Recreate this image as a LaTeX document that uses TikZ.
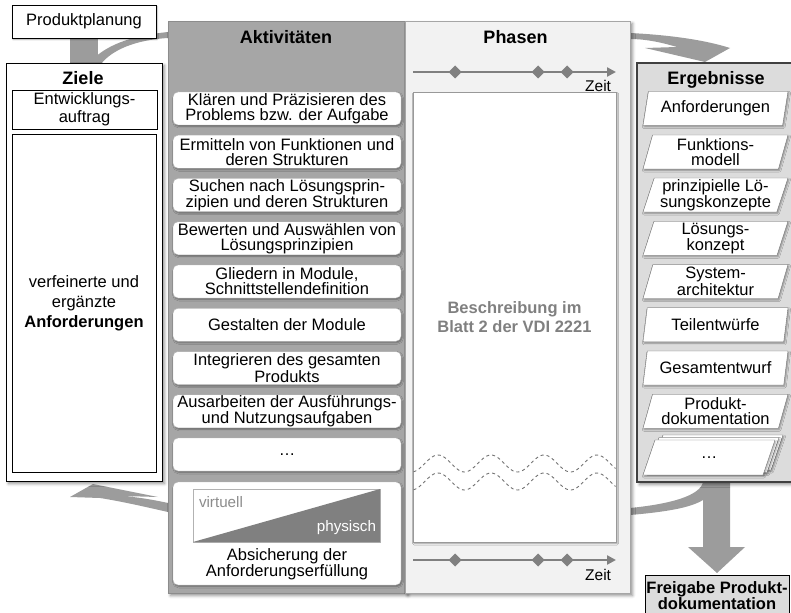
\documentclass[tikz,border=0pt]{standalone}
\usepackage{fontspec}
\setmainfont{Liberation Sans}
\usetikzlibrary{shadows.blur,calc,arrows.meta,shapes.geometric}

\definecolor{panelgray}{HTML}{A6A6A6}
\definecolor{phasebg}{HTML}{F2F2F2}
\definecolor{resbg}{HTML}{DCDCDC}
\definecolor{arrowgray}{HTML}{9C9C9C}
\definecolor{linegray}{HTML}{808080}

\begin{document}
\begin{tikzpicture}[x=1pt,y=-1pt,
  every node/.style={inner sep=0pt, outer sep=0pt},
  txt/.style={font=\fontsize{16.5}{15}\selectfont, align=center},
  hdr/.style={font=\fontsize{18}{20}\selectfont\bfseries, anchor=base},
  softshadow/.style={blur shadow={shadow xshift=2.5pt, shadow yshift=-2.5pt,
      shadow blur radius=3pt, shadow opacity=45}},
  smallshadow/.style={blur shadow={shadow xshift=1pt, shadow yshift=-1.5pt,
      shadow blur radius=1.5pt, shadow opacity=35}},
  actbox/.style={txt, draw=black!28, fill=white, rounded corners=5pt,
      minimum width=228pt, minimum height=33pt, smallshadow},
  resbox/.style={txt, font=\fontsize{16.5}{15}\selectfont, shape=trapezium,
      trapezium left angle=70.56, trapezium right angle=109.44,
      trapezium stretches body, minimum width=145pt, minimum height=34pt,
      draw=black!55, fill=white, smallshadow},
  sheet/.style={draw=black!55, fill=white, smallshadow},
  blackbox/.style={draw=black, fill=white, line width=0.8pt},
  bigarrow/.style={fill=arrowgray, draw=none},
  zeitline/.style={draw=linegray, line width=2.5pt, -{Triangle[length=9pt,width=9pt]}},
  milestone/.style={diamond, fill=linegray, minimum size=13pt},
  zeit/.style={font=\fontsize{15.5}{17}\selectfont, anchor=east},
  wave/.style={draw=black!55, dashed, line width=0.9pt}]

\useasboundingbox (0,0) rectangle (791,612);

% ---------- flow arrows (panels cover their roots) ----------
\fill[bigarrow] (70,38) rectangle (98,64);
\fill[bigarrow] (168,32) .. controls (130,36) and (105,45) .. (88,64)
    -- (101,64) .. controls (112,50) and (135,40) .. (168,38) -- cycle;
\fill[bigarrow] (630,33) .. controls (670,35) and (705,40) .. (730,48)
    -- (705,62) -- (645,48) -- (677,47)
    .. controls (660,42) and (645,39) .. (630,39) -- cycle;
\fill[bigarrow] (168,503) .. controls (150,499) and (135,497) .. (123,496)
    -- (158,497) -- (93,484) -- (70,497) -- (100,498)
    .. controls (125,502) and (150,508) .. (168,512) -- cycle;
\fill[bigarrow] (630,508) .. controls (670,504) and (700,496) .. (703,482)
    -- (730,482) -- (730,547) -- (745,547) -- (717,573) -- (688,547)
    -- (703,547) -- (703,500) .. controls (690,508) and (665,512) .. (630,515) -- cycle;

% ---------- panels ----------
\node[draw=black!45, fill=panelgray, softshadow, minimum width=238pt,
      minimum height=572pt] (akt) at (287,307) {};
\node[draw=black!35, fill=phasebg, softshadow, minimum width=225pt,
      minimum height=572pt] (pha) at (517.5,307) {};
\node[draw=black, fill=white, line width=0.9pt, softshadow, minimum width=156pt,
      minimum height=418pt] (ziele) at (84,272) {};
\node[draw=black!75, fill=resbg, line width=1.2pt, softshadow, minimum width=163pt,
      minimum height=419pt] (erg) at (718.5,272.5) {};
% description area of the phases
\node[draw=black!40, fill=white, smallshadow, minimum width=203pt,
      minimum height=450pt] (area) at (514.5,317) {};

% ---------- headers ----------
\node[hdr] (hZiele) at (83,85) {Ziele};
\node[hdr] (hAkt) at (286,43.3) {Aktivitäten};
\node[hdr] (hPha) at (515.5,43.3) {Phasen};
\node[hdr] (hErg) at (716,85) {Ergebnisse};

% ---------- goals ----------
\node[blackbox, txt, smallshadow, minimum width=144pt, minimum height=33pt]
  (pp) at (84,21.5) {Produktplanung};
\node[blackbox, txt, font=\fontsize{16.5}{18}\selectfont, minimum width=145pt,
      minimum height=39pt] (auftrag) at (84.5,109.5) {Entwicklungs-\\auftrag};
\node[blackbox, txt, font=\fontsize{16.5}{20}\selectfont, minimum width=144pt,
      minimum height=338pt] (anf) at (84,303)
  {verfeinerte und\\ergänzte\\\textbf{Anforderungen}};

% ---------- activities ----------
\node[actbox] (a1) at (287,108.5)  {Klären und Präzisieren des\\Problems bzw. der Aufgabe};
\node[actbox] (a2) at (287,151.75) {Ermitteln von Funktionen und\\deren Strukturen};
\node[actbox] (a3) at (287,195)    {Suchen nach Lösungsprin-\\zipien und deren Strukturen};
\node[actbox] (a4) at (287,238.25) {Bewerten und Auswählen von\\Lösungsprinzipien};
\node[actbox] (a5) at (287,281.5)  {Gliedern in Module,\\Schnittstellendefinition};
\node[actbox] (a6) at (287,324.75) {Gestalten der Module};
\node[actbox] (a7) at (287,368)    {Integrieren des gesamten\\Produkts};
\node[actbox] (a8) at (287,411.25) {Ausarbeiten der Ausführungs-\\und Nutzungsaufgaben};
\node[actbox] (a9) at (287,454.5)  {…};

% verification: virtual to physical
\node[actbox, minimum height=103pt] (ab) at (287,533.5) {};
\node[draw=black!30, fill=white, minimum width=187pt, minimum height=53pt]
  (vp) at (286.5,515.5) {};
\fill[linegray] (vp.south west) -- (vp.north east) -- (vp.south east) -- cycle;
\node[font=\fontsize{15.2}{17}\selectfont, text=black!45, anchor=west]
  (virt) at (199,502) {virtuell};
\node[font=\fontsize{15.2}{17}\selectfont, text=white, anchor=east]
  (phys) at (376,528) {physisch};
\node[txt] (abtxt) at (287,564.5) {Absicherung der\\Anforderungserfüllung};

% ---------- phases ----------
\coordinate (tl1a) at (413,72);
\coordinate (tl1b) at (616,72);
\draw[zeitline] (tl1a) -- (tl1b);
\node[milestone] (m11) at (455,72) {};
\node[milestone] (m12) at (538,72) {};
\node[milestone] (m13) at (567,72) {};
\node[zeit] (z1) at (611,86) {Zeit};

\coordinate (tl2a) at (413,560);
\coordinate (tl2b) at (616,560);
\draw[zeitline] (tl2a) -- (tl2b);
\node[milestone] (m21) at (455,560) {};
\node[milestone] (m22) at (538,560) {};
\node[milestone] (m23) at (567,560) {};
\node[zeit] (z2) at (611,575) {Zeit};

\node[font=\fontsize{16.5}{19}\selectfont\bfseries, text=black!50, align=center]
  (desc) at (514.5,317.5) {Beschreibung im\\Blatt 2 der VDI 2221};

\draw[wave] plot[domain=413.5:615.5, samples=120, smooth]
  (\x,{463.5-8.5*sin(((\x-424.75)/53)*360)});
\draw[wave] plot[domain=413.5:615.5, samples=120, smooth]
  (\x,{481.5-8.5*sin(((\x-424.75)/53)*360)});

% ---------- results ----------
\node[resbox] (e1) at (715.5,108.5)  {Anforderungen};
\node[resbox] (e2) at (715.5,152)    {Funktions-\\modell};
\node[resbox] (e3) at (715.5,195)    {prinzipielle Lö-\\sungskonzepte};
\node[resbox] (e4) at (715.5,238.25) {Lösungs-\\konzept};
\node[resbox] (e5) at (715.5,281.5)  {System-\\architektur};
\node[resbox] (e6) at (715.5,324.75) {Teilentwürfe};
\node[resbox] (e7) at (715.5,368)    {Gesamtentwurf};
\node[resbox] (e8) at (715.5,411.25) {Produkt-\\dokumentation};
% stack of slanted sheets for the further results
\foreach \dx/\dy in {8/-5,4/-2.5,0/0}
  \draw[sheet, shift={(\dx,\dy)}] (643,475) -- (655,440) -- (775,440) -- (763,475) -- cycle;
\node[txt] (e9) at (709,457.5) {…};

% ---------- release ----------
\node[draw=black, fill=resbg, line width=1pt, minimum width=144pt, minimum height=40pt,
      font=\fontsize{16.5}{15}\selectfont\bfseries, align=center]
  (frei) at (717,595.5) {Freigabe Produkt-\\dokumentation};

\end{tikzpicture}
\end{document}
